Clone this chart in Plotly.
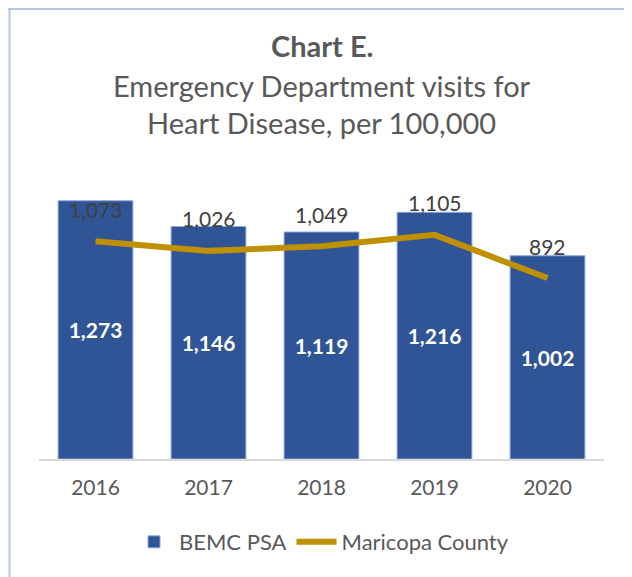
import plotly.graph_objects as go

years = ["2016", "2017", "2018", "2019", "2020"]
bemc_psa = [1273, 1146, 1119, 1216, 1002]
maricopa = [1073, 1026, 1049, 1105, 892]

title_lines = ["<b>Chart E.</b>", "Emergency Department visits for", "Heart Disease, per 100,000"]

FONT = "Lato"
OFF = 8  # page body margin
W, H = 632 - OFF, 577 - OFF
ML, MR, MT, MB = 39 - OFF, 28, 175 - OFF, 118
PW = W - ML - MR
PH = H - MT - MB

def px_to_paper_x(px):
    return (px - ML) / PW

def px_to_paper_y(py):
    return (H - MB - py) / PH

fig = go.Figure()
fig.add_trace(go.Bar(
    x=years, y=bemc_psa, name="BEMC PSA",
    marker=dict(color="#2F5597", line=dict(color="#8EA9DB", width=1)),
    texttemplate="%{y:,}", textposition="inside", insidetextanchor="middle",
    textfont=dict(color="white", size=21, family=FONT, weight="bold"),
    hoverinfo="skip",
))
fig.add_trace(go.Scatter(
    x=years, y=maricopa, name="Maricopa County", mode="lines",
    line=dict(color="#BF9000", width=6),
    hoverinfo="skip",
))

annotations = []
for i, v in enumerate(maricopa):
    annotations.append(dict(x=i, y=v, xref="x", yref="y", text=f"{v:,}", showarrow=False,
                            yshift=32, font=dict(size=21, color="#404040", family=FONT)))
shifts = [130, 90, 53]
for txt, ys in zip(title_lines, shifts):
    annotations.append(dict(x=0.5, y=1, xref="paper", yref="paper", text=txt, showarrow=False,
                            yshift=ys, yanchor="middle", xanchor="center",
                            font=dict(size=29, color="#595959", family=FONT)))

border = "#B4C7E7"
shapes = [
    dict(type="line", xref="paper", yref="paper", x0=px_to_paper_x(0), x1=px_to_paper_x(W),
         y0=px_to_paper_y(1), y1=px_to_paper_y(1), line=dict(color=border, width=2)),
    dict(type="line", xref="paper", yref="paper", x0=px_to_paper_x(1.5), x1=px_to_paper_x(1.5),
         y0=px_to_paper_y(0), y1=px_to_paper_y(H), line=dict(color=border, width=2)),
]

fig.update_layout(
    width=W, height=H,
    margin=dict(l=ML, r=MR, t=MT, b=MB, pad=0),
    paper_bgcolor="white", plot_bgcolor="white",
    bargap=0.338,
    showlegend=True,
    legend=dict(orientation="h", x=0.5, xanchor="center", y=px_to_paper_y(542 - OFF),
                yanchor="middle", font=dict(size=22, color="#595959", family=FONT),
                itemwidth=40, traceorder="normal"),
    xaxis=dict(type="category", categoryorder="array", categoryarray=years,
               range=[-0.5, len(years) - 0.5],
               showline=True, linecolor="#D9D9D9", linewidth=2,
               ticks="outside", ticklen=9, tickcolor="rgba(0,0,0,0)",
               showgrid=False, tickfont=dict(size=21, color="#595959", family=FONT)),
    yaxis=dict(visible=False, range=[0, 1400], showgrid=False),
    annotations=annotations, shapes=shapes,
)

fig.write_html("out.html")
